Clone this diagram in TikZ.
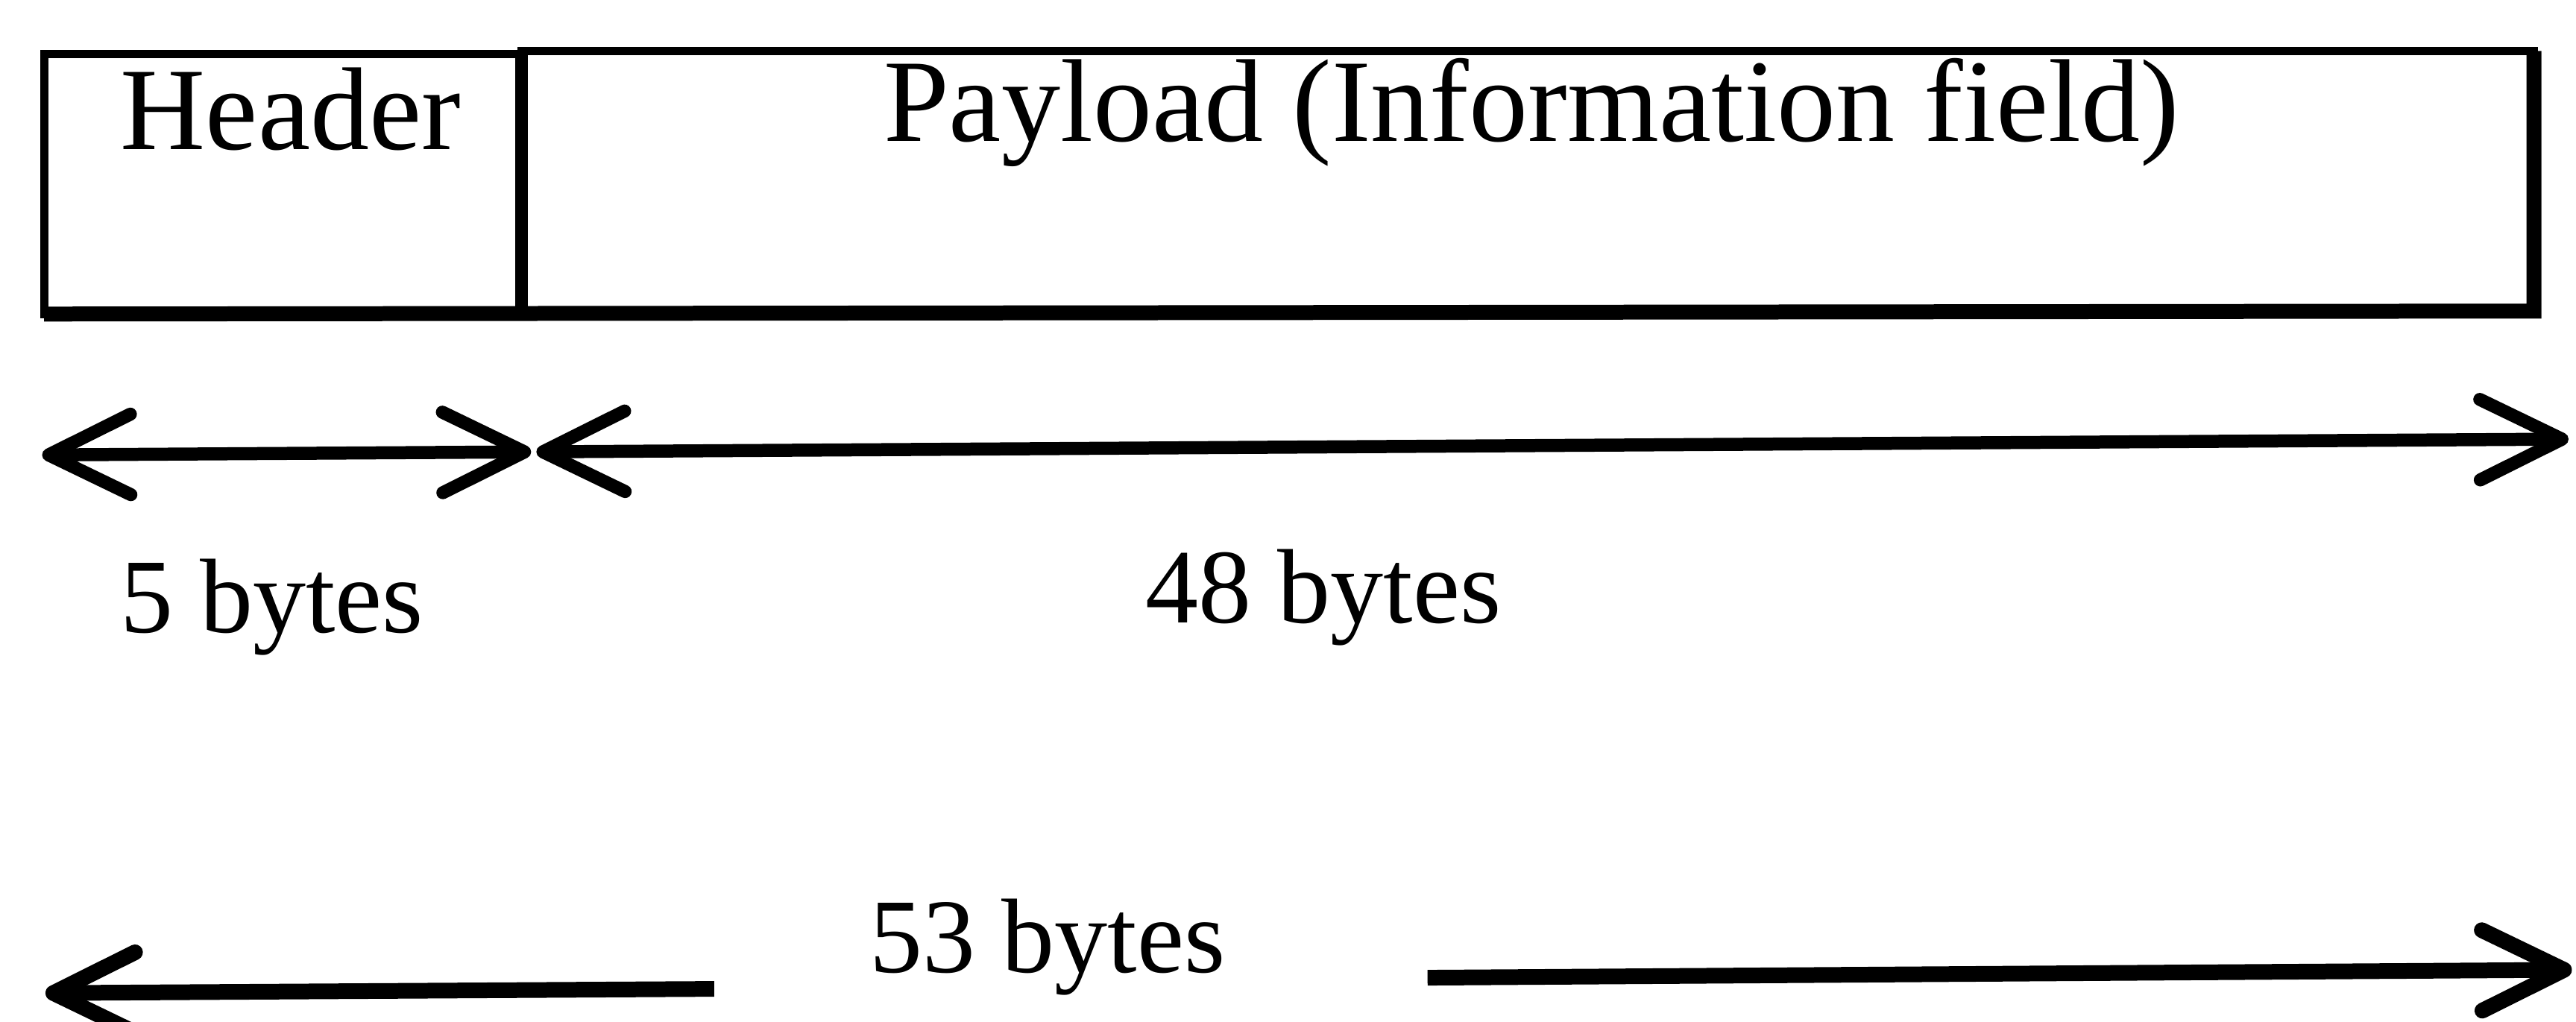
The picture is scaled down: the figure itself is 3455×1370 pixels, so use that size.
\documentclass[tikz,border=0pt]{standalone}
\usepackage{fontspec}
\setmainfont{Liberation Serif}
\usetikzlibrary{arrows.meta}
\begin{document}
\begin{tikzpicture}[x=0.1pt,y=-0.1pt,
  cell/.style={draw=black, line width=1.1pt, inner sep=0pt, outer sep=0pt, anchor=north west, minimum height=34.9pt},
  title/.style={font=\fontsize{15.8pt}{18pt}\selectfont, anchor=base, inner sep=0pt},
  lab/.style={font=\fontsize{14.2pt}{17pt}\selectfont, anchor=base, inner sep=0pt},
  barb/.tip={Straight Barb[length=11pt, width=10.8pt, round]},
  dim/.style={line width=1.75pt},
  dimthick/.style={line width=2.1pt}]
\useasboundingbox (0,0) rectangle (3455,1370);
\begin{scope}[rotate around={0.36:(1700,700)}]
% cells
\node[cell, minimum width=64pt] (header) at (63,62) {};
\node[cell, minimum width=270pt] (payload) at (703,62) {};
\draw[line width=1.7pt] (header.north east) -- (header.south east);
\draw[line width=2pt] (header.south west) -- (payload.south east) -- (payload.north east);
\node[title] (htext) at (393,192) {Header};
\node[title] (ptext) at (2057,192) {Payload (Information field)};
% dimension arrows
\coordinate (a0) at (57,600);
\coordinate (a1) at (713,600);
\coordinate (a2) at (720,600);
\coordinate (a3) at (3446,600);
\draw[dim, barb-barb] (a0) -- (a1);
\draw[dim, barb-barb] (a2) -- (a3);
\node[lab] (l5) at (364,840) {5 bytes};
\node[lab] (l48) at (1774,836) {48 bytes};
\node[lab] (l53) at (1401,1303) {53 bytes};
\coordinate (b0) at (57,1322);
\coordinate (b1) at (954,1322);
\coordinate (c0) at (1911,1313);
\coordinate (c1) at (3446,1312);
\draw[dimthick, barb-] (b0) -- (b1);
\draw[dimthick, -barb] (c0) -- (c1);
\end{scope}
\end{tikzpicture}
\end{document}
